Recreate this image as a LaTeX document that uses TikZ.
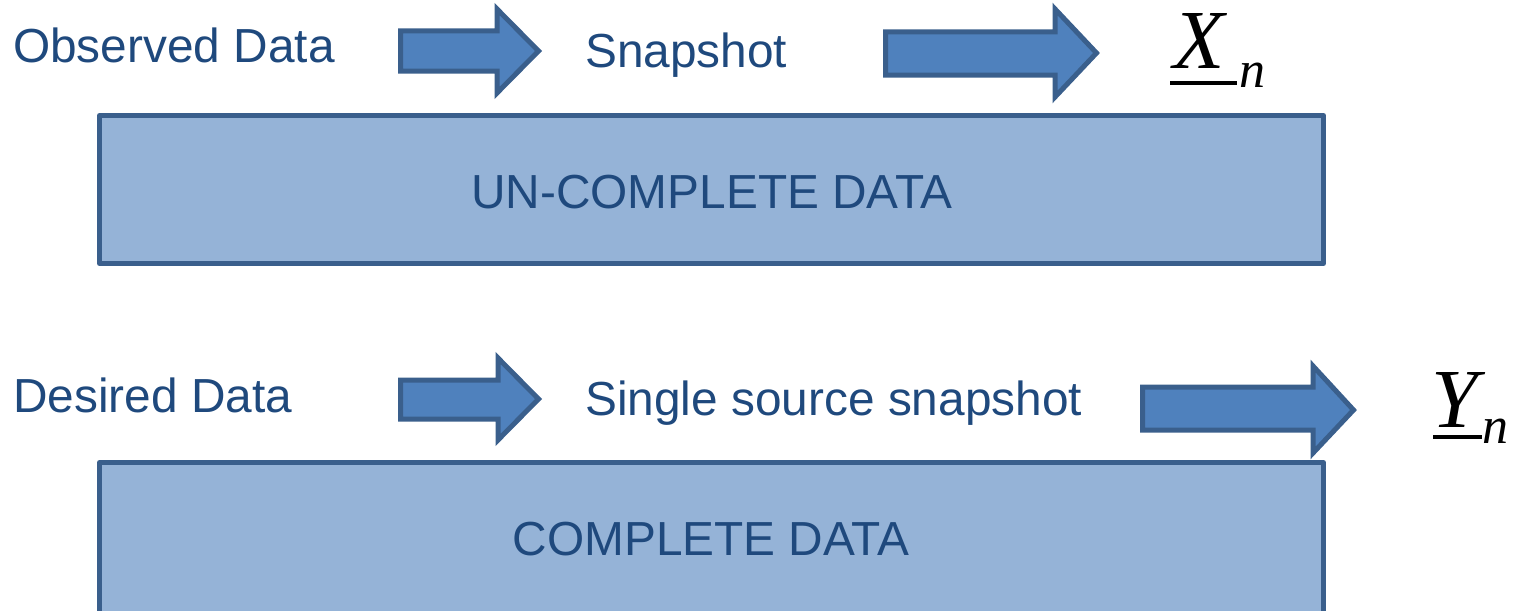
\documentclass[tikz,border=0pt]{standalone}
\usepackage{fontspec}
\setmainfont{Liberation Sans}
\newfontfamily\timesfont{Liberation Serif}
\definecolor{txtblue}{HTML}{1F497D}
\definecolor{arrowfill}{HTML}{4F81BD}
\definecolor{edgeblue}{HTML}{3A5F8C}
\definecolor{boxfill}{HTML}{95B3D7}
\tikzset{
  label/.style={inner sep=0pt, text=txtblue, font=\fontsize{47.8}{57}\selectfont},
  blockarrow/.style={fill=arrowfill, draw=edgeblue, line width=5pt, line join=miter},
  databox/.style={fill=boxfill, draw=edgeblue, line width=5pt, line join=round},
  symbol/.style={inner sep=0pt, text=black, font=\timesfont\itshape\fontsize{#1}{#1}\selectfont},
  bar/.style={draw=black, line width=3.2pt}
}
\begin{document}
\begin{tikzpicture}[x=1pt, y=-1pt]
  \useasboundingbox (0,0) rectangle (1514,610);
  \clip (0,0) rectangle (1514,610);

  % data boxes
  \draw[databox] (99.5,115.5) rectangle (1323.5,263.5);
  \draw[databox] (99.5,462.5) rectangle (1323.5,640);
  \node[label, anchor=base] (uncomplete) at (712,208) {UN-COMPLETE DATA};
  \node[label, anchor=base] (complete) at (711,555) {COMPLETE DATA};

  % top row
  \node[label, anchor=base west] (observed) at (13,63) {Observed Data};
  \node[label, anchor=base west] (snapshot) at (585,67) {Snapshot};
  \draw[blockarrow] (400.5,31) -- (497,31) -- (497,9) -- (538.5,51) -- (497,93) -- (497,71) -- (400.5,71) -- cycle;
  \draw[blockarrow] (885.5,32) -- (1055,32) -- (1055,9) -- (1096.5,53) -- (1055,97) -- (1055,75) -- (885.5,75) -- cycle;
  \node[symbol=84, anchor=base] (xsym) at (1199,68) {X};
  \node[symbol=52, anchor=base] (xsub) at (1252,88) {n};
  \draw[bar] (1170,83) -- (1237,83);

  % bottom row
  \node[label, anchor=base west] (desired) at (13,412) {Desired Data};
  \node[label, anchor=base west] (single) at (585,415) {Single source snapshot};
  \draw[blockarrow] (400.5,380) -- (498,380) -- (498,358) -- (538.5,399) -- (498,440) -- (498,419) -- (400.5,419) -- cycle;
  \draw[blockarrow] (1142.5,387) -- (1313,387) -- (1313,366) -- (1353.5,410) -- (1313,453) -- (1313,430) -- (1142.5,430) -- cycle;
  \node[symbol=84, anchor=base] (ysym) at (1455,427) {Y};
  \node[symbol=52, anchor=base] (ysub) at (1495,443) {n};
  \draw[bar] (1433,437) -- (1482,437);
\end{tikzpicture}
\end{document}
